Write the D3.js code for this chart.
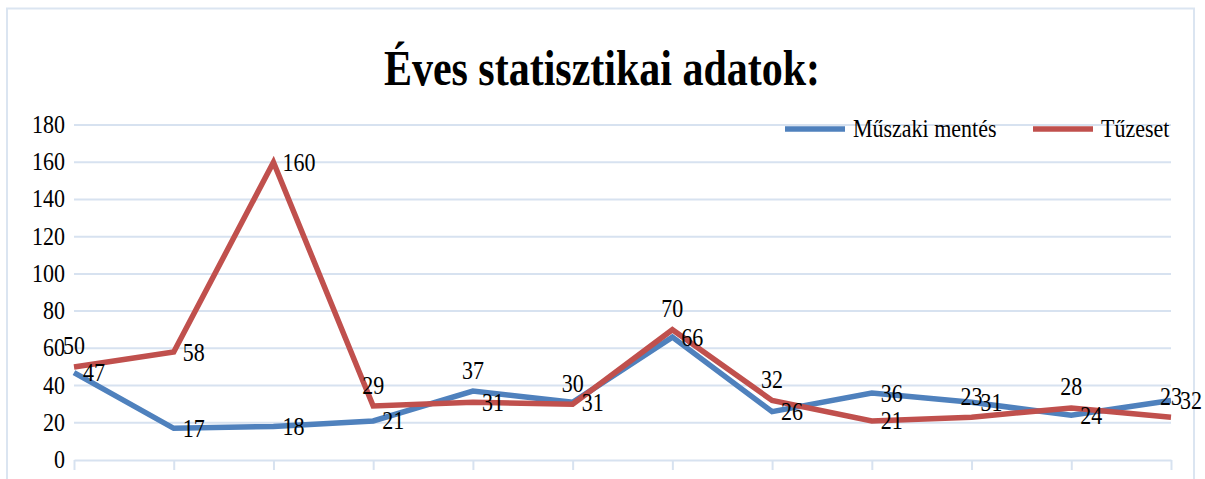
<!DOCTYPE html>
<html><head><meta charset="utf-8">
<script src="https://cdn.jsdelivr.net/npm/d3@7"></script>
<style>body{margin:0;background:#fff}svg{display:block}</style>
</head><body><svg id="c" width="1205" height="479"></svg>
<script>
const title = "Éves statisztikai adatok:";
const categories = [1,2,3,4,5,6,7,8,9,10,11,12];
const seriesNames = ["Műszaki mentés", "Tűzeset"];
const muszaki = [47, 17, 18, 21, 37, 31, 66, 26, 36, 31, 24, 32];
const tuzeset = [50, 58, 160, 29, 31, 30, 70, 32, 21, 23, 28, 23];
const yTicks = [0, 20, 40, 60, 80, 100, 120, 140, 160, 180];
const muszakiLabelPos = ['right','right','right','right','above','right','right','right','right','right','right','right'];
const tuzesetLabelPos = ['above','right','right','above','right','above','above','above','right','above','above','above'];

const colors = ["#4F81BD", "#C0504D"];
const gridColor = "#d7e2f0";
const font = "'Liberation Serif','Times New Roman',serif";
const sy = 1.15;

const svg = d3.select("#c");
// chart border
svg.append("rect").attr("x",7).attr("y",8.5).attr("width",1187).attr("height",520)
  .attr("fill","none").attr("stroke","#dbe5f1").attr("stroke-width",2);

const x = d3.scalePoint().domain(categories).range([74,1171]);
const y = d3.scaleLinear().domain([0,180]).range([460,125]);

// title
svg.append("text").attr("transform",`translate(602,85) scale(1,1.2)`)
  .attr("text-anchor","middle").attr("font-family",font).attr("font-weight","bold")
  .attr("font-size",42).attr("fill","#000").text(title);

// gridlines
svg.append("g").selectAll("line").data(yTicks.filter(d=>d>0)).join("line")
  .attr("x1",74).attr("x2",1171).attr("y1",d=>y(d)).attr("y2",d=>y(d))
  .attr("stroke",gridColor).attr("stroke-width",2);

// x axis
const xa = svg.append("g").attr("transform",`translate(0,${y(0)})`)
  .call(d3.axisBottom(x).tickSize(10).tickSizeOuter(0).tickFormat(""));
xa.select(".domain").attr("stroke",gridColor).attr("stroke-width",2);
xa.selectAll(".tick line").attr("stroke",gridColor).attr("stroke-width",2);

// y labels
svg.append("g").selectAll("text").data(yTicks).join("text")
  .attr("transform",d=>`translate(65,${y(d)+8}) scale(1,${sy})`)
  .attr("text-anchor","end").attr("font-family",font).attr("font-size",22).attr("fill","#000")
  .text(d=>d);

// lines
const line = d3.line().x((d,i)=>x(categories[i])).y(d=>y(d));
[muszaki, tuzeset].forEach((s,k)=>{
  svg.append("path").datum(s).attr("d",line).attr("fill","none")
    .attr("stroke",colors[k]).attr("stroke-width",5.5).attr("stroke-linejoin","miter");
});

// data labels
function labels(s, pos){
  svg.append("g").selectAll("text").data(s).join("text")
    .attr("transform",(d,i)=>{
      const px = x(categories[i]), py = y(d);
      return pos[i]==='above' ? `translate(${px},${py-12.5}) scale(1,${sy})`
                              : `translate(${px+9},${py+8.5}) scale(1,${sy})`;
    })
    .attr("text-anchor",(d,i)=>pos[i]==='above'?'middle':'start')
    .attr("font-family",font).attr("font-size",22).attr("fill","#000")
    .text(d=>d);
}
labels(muszaki, muszakiLabelPos);
labels(tuzeset, tuzesetLabelPos);

// legend
const legendX = [785, 1033];
seriesNames.forEach((n,k)=>{
  svg.append("line").attr("x1",legendX[k]).attr("x2",legendX[k]+60).attr("y1",129).attr("y2",129)
    .attr("stroke",colors[k]).attr("stroke-width",5.5);
  svg.append("text").attr("transform",`translate(${legendX[k]+68},137) scale(1,${sy})`)
    .attr("font-family",font).attr("font-size",22).attr("fill","#000").text(n);
});
</script></body></html>
